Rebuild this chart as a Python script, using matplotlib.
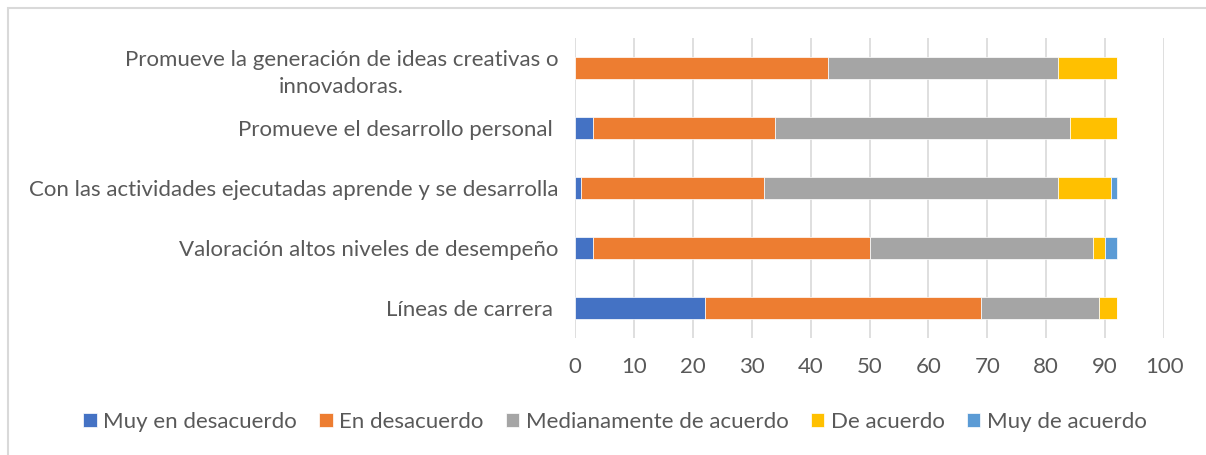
import numpy as np
import matplotlib
matplotlib.use("Agg")
import matplotlib.pyplot as plt
from matplotlib.patches import Rectangle

# categories from bottom to top
categories = ["Líneas de carrera ",
              "Valoración altos niveles de desempeño",
              "Con las actividades ejecutadas aprende y se desarrolla",
              "Promueve el desarrollo personal ",
              "Promueve la generación de ideas creativas o\ninnovadoras."]

series_names = ["Muy en desacuerdo", "En desacuerdo", "Medianamente de acuerdo",
                "De acuerdo", "Muy de acuerdo"]
muy_desacuerdo = [22, 3, 1, 3, 0]
desacuerdo = [47, 47, 31, 31, 43]
medianamente = [20, 38, 50, 50, 39]
de_acuerdo = [3, 2, 9, 8, 10]
muy_acuerdo = [0, 2, 1, 0, 0]

colors = ["#4472C4", "#ED7D31", "#A5A5A5", "#FFC000", "#5B9BD5"]
series = [muy_desacuerdo, desacuerdo, medianamente, de_acuerdo, muy_acuerdo]

plt.rcParams['font.family'] = ['Lato', 'DejaVu Sans']
txt = "#595959"
fs = 16

fig = plt.figure(figsize=(12.06, 4.55), dpi=100)
ax = fig.add_axes([0.4768, 0.2571, 0.4884, 0.6593])

y = np.arange(len(categories))
left = np.zeros(len(categories))
for name, vals, col in zip(series_names, series, colors):
    vals = np.array(vals, dtype=float)
    ax.barh(y, vals, left=left, height=0.367, color=col, label=name,
            edgecolor="white", linewidth=0.5, zorder=3)
    left += vals

ax.set_xlim(0, 100)
ax.set_ylim(-0.5, len(categories) - 0.5)
ax.set_xticks(np.arange(0, 101, 10))
ax.set_yticks(y)
ax.set_yticklabels(categories, fontsize=fs, color=txt)
for lab in ax.get_yticklabels():
    lab.set_multialignment("center")
    lab.set_linespacing(1.45)
ax.tick_params(axis="x", labelsize=fs, colors=txt, length=0, pad=14)
ax.tick_params(axis="y", length=0, pad=12)
ax.grid(axis="x", color="#D9D9D9", linewidth=1.2, zorder=0)
for s in ax.spines.values():
    s.set_visible(False)

leg = fig.legend(loc="center", bbox_to_anchor=(0.51, 0.072), ncol=5, frameon=False,
                 fontsize=fs, handlelength=0.6, handleheight=0.6,
                 handletextpad=0.3, columnspacing=1.0)
for t in leg.get_texts():
    t.set_color(txt)

# chart border
fig.patches.append(Rectangle((8 / 1206, -0.1), 1.2, 1 - 8 / 455 + 0.1,
                             transform=fig.transFigure, fill=False,
                             edgecolor="#D9D9D9", linewidth=1.5))

fig.savefig("out.png", dpi=100)
